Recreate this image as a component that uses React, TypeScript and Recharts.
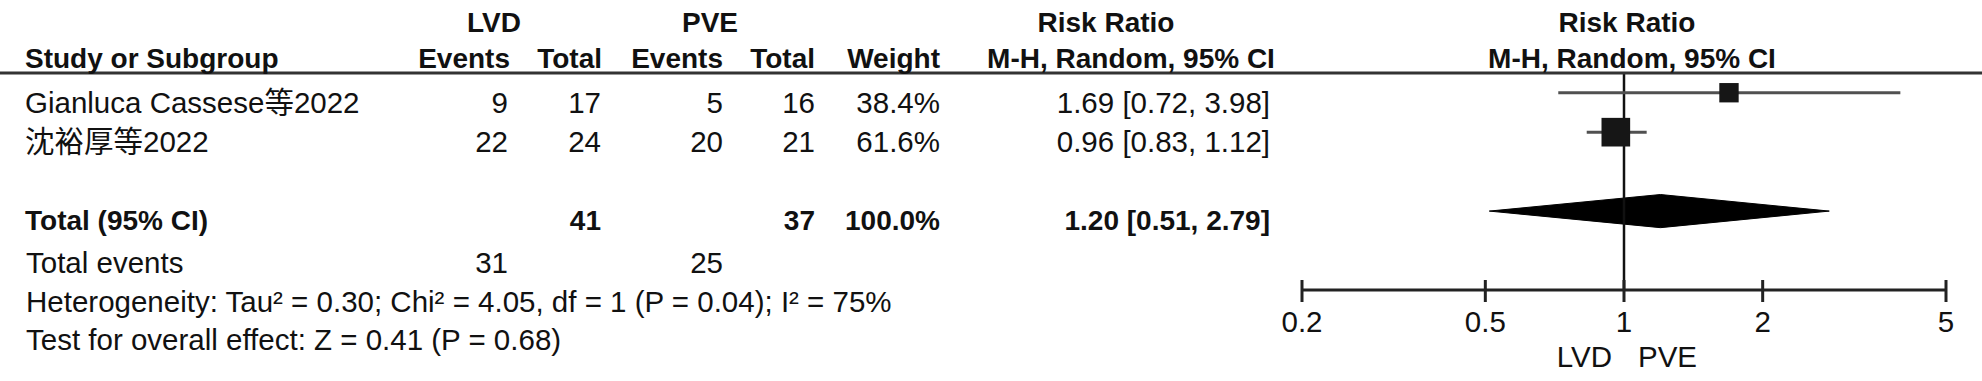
import React from 'react';
import {
  ComposedChart,
  XAxis,
  YAxis,
  Area,
  Scatter,
  ReferenceLine,
} from 'recharts';

// study rows
const studies = ['Gianluca Cassese等2022', '沈裕厚等2022'];
const lvdEvents = [9, 22];
const lvdTotal = [17, 24];
const pveEvents = [5, 20];
const pveTotal = [16, 21];
const weights = [38.4, 61.6];
const riskRatio = [1.69, 0.96];
const ciLow = [0.72, 0.83];
const ciHigh = [3.98, 1.12];

// pooled
const pooled = { rr: 1.2, low: 0.51, high: 2.79 };
const totalN = [41, 37];
const totalEvents = [31, 25];
const het = { tau2: '0.30', chi2: '4.05', df: 1, p: '0.04', i2: 75 };
const overall = { z: '0.41', p: '0.68' };

const xTicks = [0.2, 0.5, 1, 2, 5];
const groups = ['LVD', 'PVE'];

const W = 1982;
const H = 381;
const FONT = '"Liberation Sans", Arial, "Noto Sans CJK SC", sans-serif';
const FS = 29.5;
const FSB = 28;

const studyRows = studies.map((_, i) => i + 1);
const totalRow = 4;
const diamondHalf = 0.42;

const squares = studies.map((s, i) => ({ x: riskRatio[i], y: studyRows[i], w: weights[i] }));
const diamondData = [
  { x: pooled.low, range: [totalRow, totalRow] },
  { x: pooled.rr, range: [totalRow - diamondHalf, totalRow + diamondHalf] },
  { x: pooled.high, range: [totalRow, totalRow] },
];

const fmtCI = (r: number, l: number, h: number) => `${r.toFixed(2)} [${l.toFixed(2)}, ${h.toFixed(2)}]`;

const Square = (props: any) => {
  const { cx, cy, payload } = props;
  const s = 4 + 0.4 * payload.w;
  return <rect x={cx - s / 2} y={cy - s / 2} width={s} height={s} fill="#161616" />;
};

const Tick = (props: any) => {
  const { x, y, payload } = props;
  return (
    <g>
      <line x1={x} x2={x} y1={y - 10} y2={y + 12} stroke="#222" strokeWidth={3} />
      <text x={x} y={y + 42} textAnchor="middle" fontSize={FS} fontFamily={FONT} fill="#111">
        {String(payload.value)}
      </text>
    </g>
  );
};

const T = ({ x, y, a = 'start', b = false, children }: any) => (
  <text
    x={x}
    y={y}
    textAnchor={a}
    fontSize={b ? FSB : FS}
    fontFamily={FONT}
    fontWeight={b ? 700 : 400}
    fill="#111"
  >
    {children}
  </text>
);

const rowY = [113, 152];

export default function App() {
  return (
    <div style={{ position: 'absolute', left: 0, top: 0, width: W, height: H, background: '#fff' }}>
      <div style={{ position: 'absolute', left: 0, top: 0 }}>
        <ComposedChart
          width={W}
          height={H}
          data={diamondData}
          margin={{ top: 73, right: 36, bottom: 0, left: 1302 }}
        >
          <XAxis
            type="number"
            dataKey="x"
            scale="log"
            domain={[0.2, 5]}
            ticks={xTicks}
            interval={0}
            allowDataOverflow
            height={91}
            axisLine={{ stroke: '#222', strokeWidth: 3 }}
            tickLine={false}
            tickSize={0}
            tickMargin={0}
            tick={<Tick />}
          />
          <YAxis type="number" dataKey="y" domain={[0.5, 6]} reversed hide allowDataOverflow />
          <ReferenceLine x={1} stroke="#111" strokeWidth={2.5} />
          {studies.map((s, i) => (
            <ReferenceLine
              key={s}
              segment={[
                { x: ciLow[i], y: studyRows[i] },
                { x: ciHigh[i], y: studyRows[i] },
              ]}
              stroke="#505050"
              strokeWidth={3}
            />
          ))}
          <Area
            dataKey="range"
            type="linear"
            fill="#000"
            fillOpacity={1}
            stroke="#000"
            strokeWidth={1}
            isAnimationActive={false}
          />
          <Scatter data={squares} shape={Square} isAnimationActive={false} />
        </ComposedChart>
      </div>
      <svg width={W} height={H} style={{ position: 'absolute', left: 0, top: 0, pointerEvents: 'none' }}>
        <line x1={0} x2={W} y1={73} y2={73} stroke="#333" strokeWidth={3} />
        <T x={494} y={32} a="middle" b>{groups[0]}</T>
        <T x={710} y={32} a="middle" b>{groups[1]}</T>
        <T x={1106} y={32} a="middle" b>Risk Ratio</T>
        <T x={1627} y={32} a="middle" b>Risk Ratio</T>
        <T x={25} y={68} b>Study or Subgroup</T>
        <T x={510} y={68} a="end" b>Events</T>
        <T x={602} y={68} a="end" b>Total</T>
        <T x={723} y={68} a="end" b>Events</T>
        <T x={815} y={68} a="end" b>Total</T>
        <T x={940} y={68} a="end" b>Weight</T>
        <T x={1131} y={68} a="middle" b>M-H, Random, 95% CI</T>
        <T x={1632} y={68} a="middle" b>M-H, Random, 95% CI</T>

        {studies.map((s, i) => (
          <g key={s}>
            <T x={25} y={rowY[i]}>{s}</T>
            <T x={508} y={rowY[i]} a="end">{lvdEvents[i]}</T>
            <T x={601} y={rowY[i]} a="end">{lvdTotal[i]}</T>
            <T x={723} y={rowY[i]} a="end">{pveEvents[i]}</T>
            <T x={815} y={rowY[i]} a="end">{pveTotal[i]}</T>
            <T x={940} y={rowY[i]} a="end">{weights[i].toFixed(1)}%</T>
            <T x={1270} y={rowY[i]} a="end">{fmtCI(riskRatio[i], ciLow[i], ciHigh[i])}</T>
          </g>
        ))}

        <T x={25} y={230} b>Total (95% CI)</T>
        <T x={601} y={230} a="end" b>{totalN[0]}</T>
        <T x={815} y={230} a="end" b>{totalN[1]}</T>
        <T x={940} y={230} a="end" b>100.0%</T>
        <T x={1270} y={230} a="end" b>{fmtCI(pooled.rr, pooled.low, pooled.high)}</T>

        <T x={26} y={273}>Total events</T>
        <T x={508} y={273} a="end">{totalEvents[0]}</T>
        <T x={723} y={273} a="end">{totalEvents[1]}</T>

        <T x={26} y={312}>
          {`Heterogeneity: Tau² = ${het.tau2}; Chi² = ${het.chi2}, df = ${het.df} (P = ${het.p}); I² = ${het.i2}%`}
        </T>
        <T x={26} y={350}>{`Test for overall effect: Z = ${overall.z} (P = ${overall.p})`}</T>

        <T x={1612} y={367} a="end">{groups[0]}</T>
        <T x={1638} y={367}>{groups[1]}</T>
      </svg>
    </div>
  );
}
